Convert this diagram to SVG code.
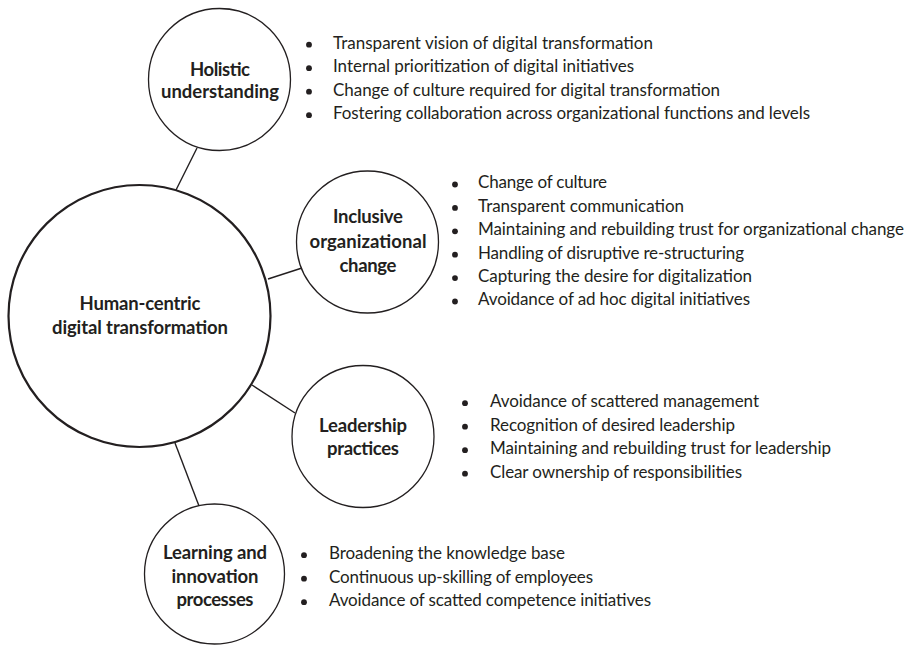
<svg xmlns="http://www.w3.org/2000/svg" width="914" height="645" viewBox="0 0 914 645">
<style>
  .hub { fill: #ffffff; stroke: #231f20; stroke-width: 2.2; }
  .node { fill: #ffffff; stroke: #231f20; stroke-width: 1.3; }
  .conn { stroke: #231f20; stroke-width: 1.4; fill: none; }
  .lbl { font-family: Lato, "Open Sans", "Liberation Sans", sans-serif; font-weight: bold; font-size: 18.5px; fill: #231f20; text-anchor: middle; }
  .item { font-family: Lato, "Open Sans", "Liberation Sans", sans-serif; font-size: 17px; fill: #231f20; }
  .dot { fill: #231f20; }
</style>
<rect width="914" height="645" fill="#ffffff"/>
<g id="connectors">
  <line class="conn" x1="176" y1="190" x2="197" y2="148"/>
  <line class="conn" x1="268" y1="279" x2="302" y2="268"/>
  <line class="conn" x1="252" y1="385" x2="295" y2="413"/>
  <line class="conn" x1="175" y1="443" x2="199" y2="506"/>
</g>
<g id="hub">
  <circle class="hub" cx="139.5" cy="316" r="131"/>
  <text class="lbl" x="140" y="310" textLength="121">Human-centric</text>
  <text class="lbl" x="140" y="334" textLength="176">digital transformation</text>
</g>
<g id="holistic">
  <circle class="node" cx="219.5" cy="79.5" r="71"/>
  <text class="lbl" x="220" y="76" textLength="60">Holistic</text>
  <text class="lbl" x="220" y="98" textLength="118">understanding</text>
  <circle class="dot" cx="309" cy="44.7" r="2.9"/>
  <circle class="dot" cx="309" cy="68.2" r="2.9"/>
  <circle class="dot" cx="309" cy="91.7" r="2.9"/>
  <circle class="dot" cx="309" cy="115.2" r="2.9"/>
  <text class="item" x="333" y="48.5" textLength="320">Transparent vision of digital transformation</text>
  <text class="item" x="333" y="72" textLength="301">Internal prioritization of digital initiatives</text>
  <text class="item" x="333" y="95.5" textLength="387">Change of culture required for digital transformation</text>
  <text class="item" x="333" y="119" textLength="477">Fostering collaboration across organizational functions and levels</text>
</g>
<g id="inclusive">
  <circle class="node" cx="367.5" cy="242" r="71"/>
  <text class="lbl" x="368" y="223" textLength="70">Inclusive</text>
  <text class="lbl" x="368" y="247.5" textLength="117">organizational</text>
  <text class="lbl" x="368" y="271.5" textLength="57">change</text>
  <circle class="dot" cx="455" cy="184.5" r="2.9"/>
  <circle class="dot" cx="455" cy="207.9" r="2.9"/>
  <circle class="dot" cx="455" cy="231.3" r="2.9"/>
  <circle class="dot" cx="455" cy="254.7" r="2.9"/>
  <circle class="dot" cx="455" cy="278.1" r="2.9"/>
  <circle class="dot" cx="455" cy="301.5" r="2.9"/>
  <text class="item" x="478" y="188.3" textLength="129">Change of culture</text>
  <text class="item" x="478" y="211.7" textLength="206">Transparent communication</text>
  <text class="item" x="478" y="235.1" textLength="426">Maintaining and rebuilding trust for organizational change</text>
  <text class="item" x="478" y="258.5" textLength="266">Handling of disruptive re-structuring</text>
  <text class="item" x="478" y="281.9" textLength="274">Capturing the desire for digitalization</text>
  <text class="item" x="478" y="305.3" textLength="272">Avoidance of ad hoc digital initiatives</text>
</g>
<g id="leadership">
  <circle class="node" cx="363" cy="436.5" r="71"/>
  <text class="lbl" x="363" y="432" textLength="88">Leadership</text>
  <text class="lbl" x="363" y="455" textLength="72">practices</text>
  <circle class="dot" cx="465" cy="403.2" r="2.9"/>
  <circle class="dot" cx="465" cy="426.7" r="2.9"/>
  <circle class="dot" cx="465" cy="450.2" r="2.9"/>
  <circle class="dot" cx="465" cy="473.7" r="2.9"/>
  <text class="item" x="490" y="407" textLength="269">Avoidance of scattered management</text>
  <text class="item" x="490" y="430.5" textLength="245">Recognition of desired leadership</text>
  <text class="item" x="490" y="454" textLength="341">Maintaining and rebuilding trust for leadership</text>
  <text class="item" x="490" y="477.5" textLength="252">Clear ownership of responsibilities</text>
</g>
<g id="learning">
  <circle class="node" cx="214.5" cy="574" r="70"/>
  <text class="lbl" x="215" y="559" textLength="104">Learning and</text>
  <text class="lbl" x="215" y="583" textLength="87">innovation</text>
  <text class="lbl" x="215" y="606" textLength="77">processes</text>
  <circle class="dot" cx="304" cy="555.2" r="2.9"/>
  <circle class="dot" cx="304" cy="578.7" r="2.9"/>
  <circle class="dot" cx="304" cy="602.2" r="2.9"/>
  <text class="item" x="329" y="559" textLength="236">Broadening the knowledge base</text>
  <text class="item" x="329" y="582.5" textLength="264">Continuous up-skilling of employees</text>
  <text class="item" x="329" y="606" textLength="322">Avoidance of scatted competence initiatives</text>
</g>
</svg>
